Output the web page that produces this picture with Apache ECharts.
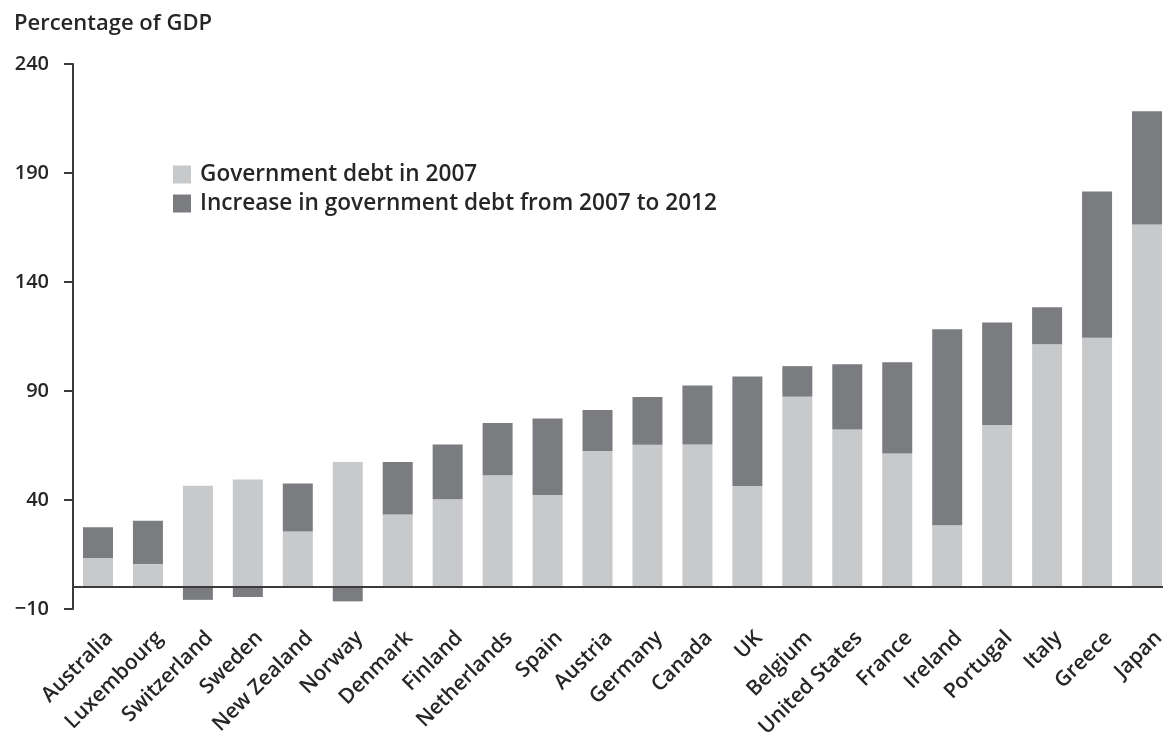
<!DOCTYPE html>
<html>
<head>
<meta charset="utf-8">
<script src="https://cdn.jsdelivr.net/npm/echarts@6/dist/echarts.min.js"></script>
<style>
  html, body { margin: 0; padding: 0; background: #fff; overflow: hidden; }
  #chart { width: 1172px; height: 746px; }
</style>
</head>
<body>
<div id="chart"></div>
<script>
// values, % of GDP
const countries = ['Australia', 'Luxembourg', 'Switzerland', 'Sweden', 'New Zealand', 'Norway',
  'Denmark', 'Finland', 'Netherlands', 'Spain', 'Austria', 'Germany', 'Canada', 'UK',
  'Belgium', 'United States', 'France', 'Ireland', 'Portugal', 'Italy', 'Greece', 'Japan'];
const debt2007 = [13.4, 10.6, 46.5, 49.4, 25.5, 57.4, 33.4, 40.4, 51.4, 42.3, 62.5,
  65.3, 65.5, 46.4, 87.4, 72.3, 61.3, 28.4, 74.4, 111.5, 114.4, 166.4];
const increase = [14.1, 19.9, -5.8, -4.5, 22.1, -6.5, 24.0, 25.1, 23.9, 35.1, 18.8,
  21.9, 27.0, 50.2, 14.0, 30.0, 41.9, 89.9, 47.0, 16.9, 67.1, 51.9];
const yTicks = { min: -10, max: 240, step: 50 };

const FONT = '"Open Sans", "Noto Sans", sans-serif';
const TEXT = '#262626';
const LIGHT = '#c8c9cb';
const DARK = '#7b7c80';

// the plot runs a few px past the window edge, so the div is a bit wider than the page
const chart = echarts.init(document.getElementById('chart'));

chart.setOption({
  animation: false,
  textStyle: { fontFamily: FONT },
  title: {
    text: 'Percentage of GDP',
    left: 9,
    top: 8,
    textStyle: { fontFamily: FONT, fontSize: 22, fontWeight: 600, color: TEXT }
  },
  legend: {
    orient: 'vertical',
    left: 168,
    top: 158,
    itemWidth: 18,
    itemHeight: 18,
    itemGap: 6,
    icon: 'rect',
    textStyle: { fontFamily: FONT, fontSize: 22.6, fontWeight: 600, color: TEXT, padding: [0, 0, 0, 4] },
    data: ['Government debt in 2007', 'Increase in government debt from 2007 to 2012']
  },
  grid: { left: 73, top: 64, right: 0, bottom: 137 },
  xAxis: {
    type: 'category',
    data: countries,
    axisLine: { show: false, onZero: false },
    axisTick: { show: false },
    axisLabel: {
      rotate: 45,
      margin: 14,
      interval: 0,
      verticalAlign: 'top',
      padding: [6, 0, 0, 0],
      fontFamily: FONT,
      fontSize: 21,
      fontWeight: 600,
      color: TEXT
    }
  },
  yAxis: {
    type: 'value',
    min: yTicks.min,
    max: yTicks.max,
    interval: yTicks.step,
    splitLine: { show: false },
    axisLine: { show: true, lineStyle: { color: '#3a3a3a', width: 2 } },
    axisTick: { show: true, length: 9, lineStyle: { color: '#3a3a3a', width: 2 } },
    axisLabel: {
      margin: 24,
      fontFamily: FONT,
      fontSize: 20,
      fontWeight: 600,
      color: TEXT,
      formatter: v => (v < 0 ? '\u2212' + Math.abs(v) : String(v))
    }
  },
  series: [
    {
      name: 'Government debt in 2007',
      type: 'bar',
      stack: 'debt',
      barWidth: 30,
      itemStyle: { color: LIGHT },
      emphasis: { disabled: true },
      data: debt2007,
      markLine: {
        silent: true,
        symbol: 'none',
        label: { show: false },
        lineStyle: { color: '#3a3a3a', width: 2, type: 'solid' },
        data: [{ yAxis: 0 }]
      }
    },
    {
      name: 'Increase in government debt from 2007 to 2012',
      type: 'bar',
      stack: 'debt',
      barWidth: 30,
      itemStyle: { color: DARK },
      emphasis: { disabled: true },
      data: increase
    }
  ]
});

window.addEventListener('resize', () => chart.resize());
</script>
</body>
</html>
